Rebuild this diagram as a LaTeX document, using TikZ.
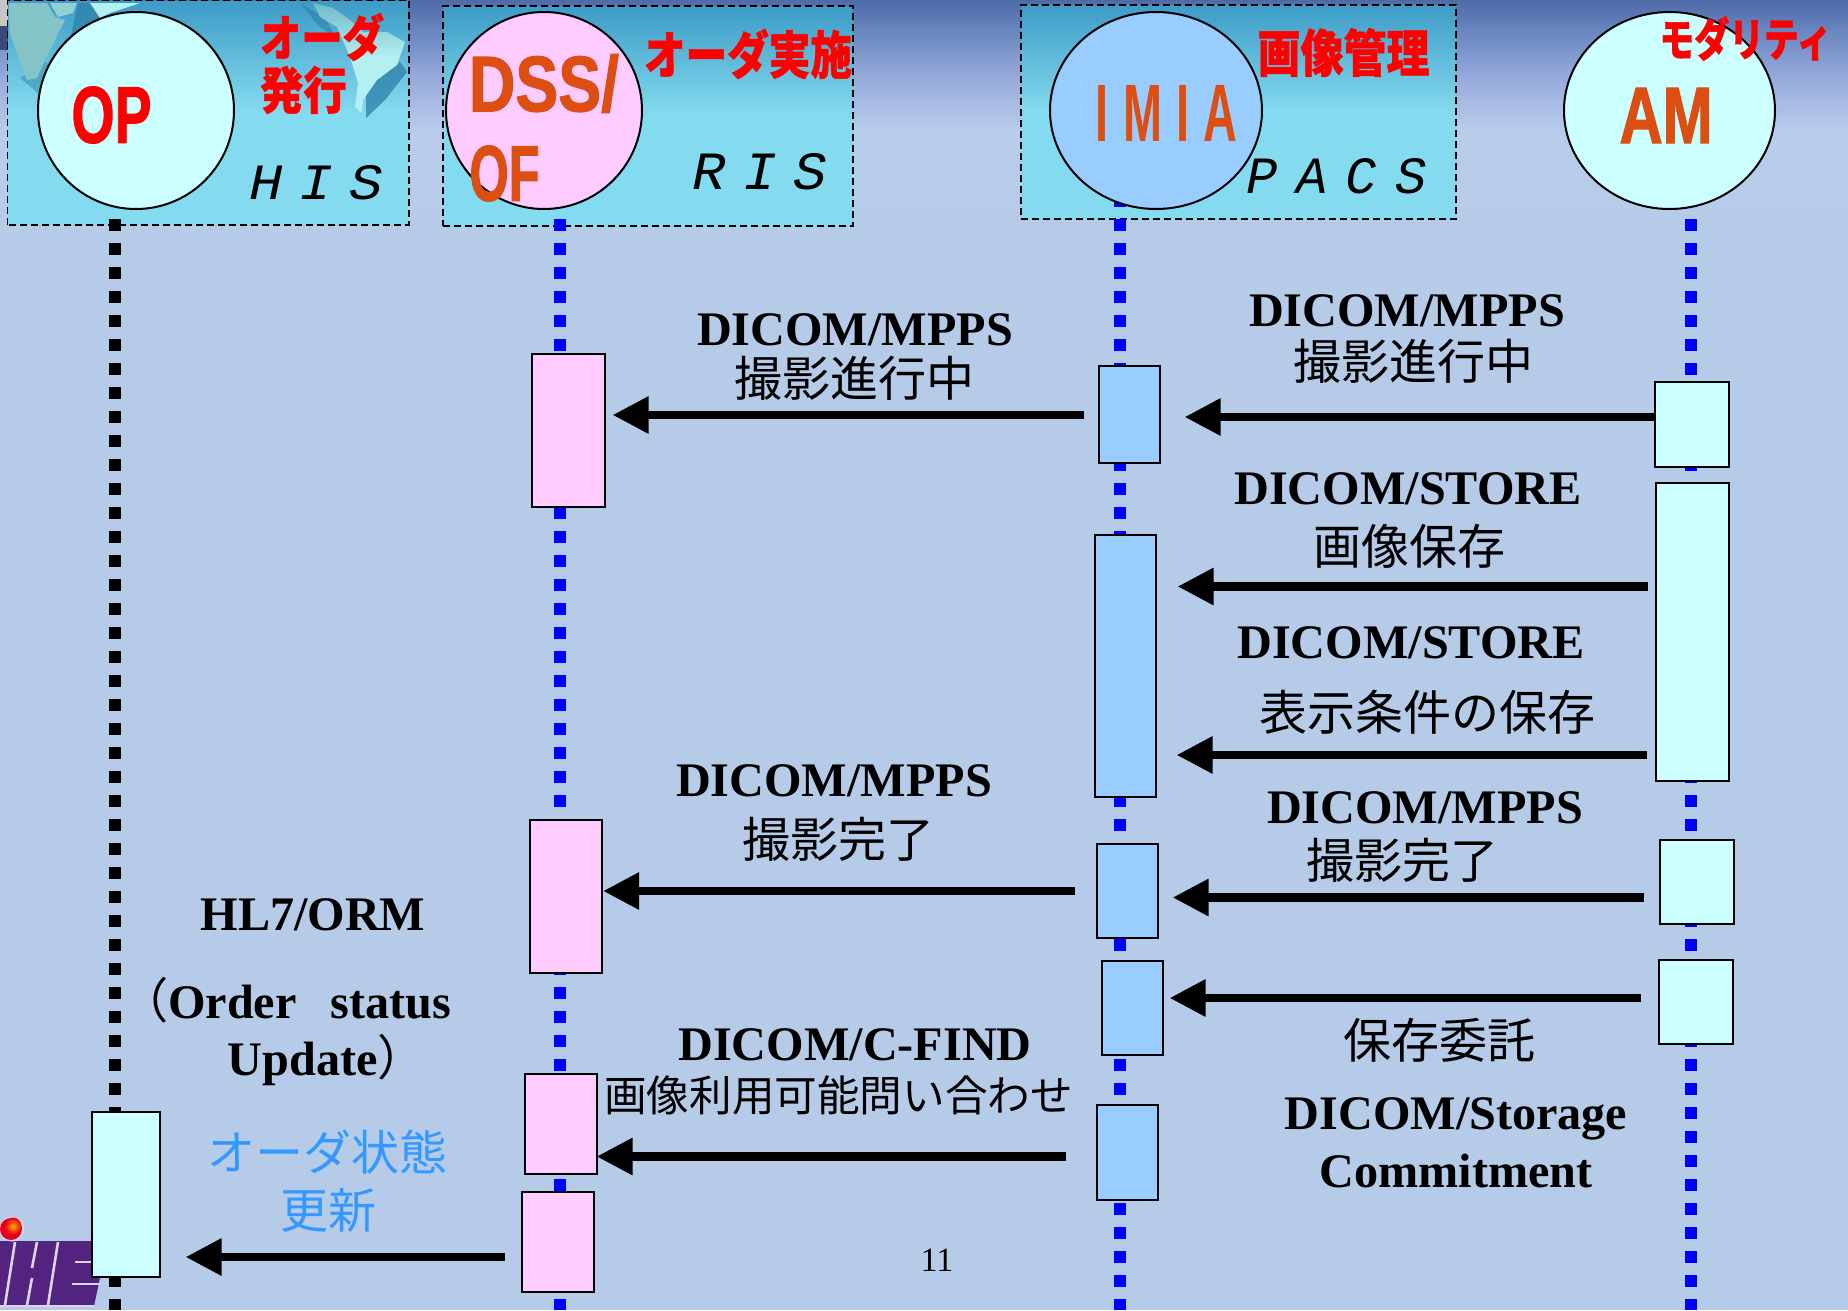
\documentclass[tikz,border=0pt]{standalone}
\usepackage{fontspec}
\usepackage{graphicx}
\usetikzlibrary{shapes.geometric,arrows.meta}
\setmainfont{Liberation Serif}
\newfontfamily\jp{Noto Sans CJK JP}
\newfontfamily\jpb[BoldFeatures={FakeBold=1}]{Noto Sans CJK JP}
\newfontfamily\lab[BoldFeatures={FakeBold=1.6}]{Liberation Sans}
\newfontfamily\labi{Liberation Sans}
\newfontfamily\monoi{Liberation Mono}
\definecolor{pinkf}{HTML}{FFCCFF}
\definecolor{bluef}{HTML}{99CCFF}
\definecolor{cyanf}{HTML}{CCFFFF}
\definecolor{orangeT}{HTML}{DC4E12}
\definecolor{blueT}{HTML}{3399FF}
\definecolor{bgA}{HTML}{4F6BA8}
\definecolor{bgB}{HTML}{6482BC}
\definecolor{bgC}{HTML}{96A9DB}
\definecolor{bgD}{HTML}{B9CDEB}
\definecolor{bgE}{HTML}{B6CBE8}
\definecolor{panA}{HTML}{3D9BC6}
\definecolor{panB}{HTML}{84DBEF}
\definecolor{land}{HTML}{B4F0F2}
\definecolor{landT}{HTML}{6FBCC8}
\definecolor{landB}{HTML}{84C4C6}
\definecolor{deep}{HTML}{2B7FA8}
\definecolor{purpleL}{HTML}{52247F}
\definecolor{whiteL}{HTML}{DDD5EA}
\tikzset{
  panel/.style={draw=black,line width=1.5pt,dash pattern=on 7pt off 4pt,top color=panA,bottom color=panB,middle color=panB,inner sep=0pt},
  actor/.style={ellipse,draw=black,line width=2pt,inner sep=0pt},
  actbox/.style={rectangle,draw=black,line width=2pt,inner sep=0pt},
  pinkbox/.style={actbox,fill=pinkf},
  bluebox/.style={actbox,fill=bluef},
  cyanbox/.style={actbox,fill=cyanf},
  lifeB/.style={line width=12pt,blue,dash pattern=on 12pt off 12pt},
  lifeK/.style={line width=12pt,black,dash pattern=on 12pt off 12pt},
  msg/.style={line width=8.7pt,-{Triangle[length=36pt,width=35pt]}},
  sized/.style={inner sep=0pt,anchor=center},
  txt/.style={inner sep=0pt,anchor=base,font=\fontsize{48.2}{48}\selectfont\bfseries},
  jtxt/.style={inner sep=0pt,anchor=base,font=\fontsize{48}{48}\selectfont\jp},
  logostroke/.style={whiteL,line width=2.6pt}
}
\begin{document}
\begin{tikzpicture}[x=1pt,y=-1pt]
\useasboundingbox (0,0) rectangle (1848,1310);
% background
\shade[top color=bgA,bottom color=bgB] (0,0) rectangle (1848,26);
\shade[top color=bgB,bottom color=bgC] (0,25.5) rectangle (1848,76);
\shade[top color=bgC,bottom color=bgD] (0,75.5) rectangle (1848,132);
\shade[top color=bgD,bottom color=bgE] (0,131.5) rectangle (1848,240);
\fill[bgE] (0,239.5) rectangle (1848,1310);
\fill[gray!45] (0,0) rectangle (9,26);
\fill[bgA!70!black] (0,26) rectangle (9,50);
% logo
\fill[purpleL] (0,1241) -- (102,1241) -- (100,1278) -- (94,1306) -- (0,1306) -- cycle;
\draw[logostroke] (15,1242) -- (5,1305);
\draw[logostroke] (37,1242) -- (32,1268);
\draw[logostroke] (32,1278) -- (27,1305);
\draw[logostroke] (58,1242) -- (48,1305);
\draw[logostroke] (75,1262) -- (95,1262);
\draw[logostroke] (72,1284) -- (100,1284);
\draw[logostroke] (0,1306) -- (94,1306);
\fill[whiteL] (12,1229) circle (12.5);
\fill[red!60!purple] (11,1229) circle (11);
\shade[inner color=orange!70!yellow,outer color=red!60!purple] (13,1226) circle (8.5);
% panels
\node[panel,draw=none,minimum width=400pt,minimum height=223pt] (phis) at (208,112.5) {};
\node[panel,minimum width=410pt,minimum height=220pt] (pris) at (648,116) {};
\node[panel,minimum width=435pt,minimum height=214pt] (ppacs) at (1238.5,112) {};
% world map on the HIS panel
\begin{scope}
\clip (8.8,1.8) rectangle (407.2,223);
\fill[deep,opacity=.75] (366,88) -- (400,62) -- (407,72) -- (385,100) -- (366,118) -- cycle;
\fill[deep,opacity=.7] (78,3) -- (95,3) -- (105,22) -- (70,40) -- cycle;
\fill[deep,opacity=.45] (20,78) -- (45,62) -- (60,72) -- (40,95) -- cycle;
\fill[deep,opacity=.6] (300,3) -- (325,18) -- (337,40) -- (318,25) -- cycle;
\fill[landB] (8,3) -- (47,3) -- (55,17) -- (65,20) -- (50,50) -- (43,65) -- (37,78) -- (27,80) -- (18,57) -- (10,33) -- cycle;
\fill[landB!70!land] (50,3) -- (77,3) -- (73,13) -- (58,17) -- cycle;
\fill[land] (90,3) -- (140,3) -- (110,13) -- (100,18) -- cycle;
\shade[top color=landT,bottom color=land,middle color=land] (313,3) -- (333,8) -- (350,20) -- (363,32) -- (387,32) -- (405,42) -- (397,65) -- (377,80) -- (363,100) -- (362,113) -- (355,107) -- (358,83) -- (350,57) -- (337,27) -- (320,17) -- cycle;
\end{scope}
\draw[black,line width=1.5pt,dash pattern=on 7pt off 4pt] (phis.south west) rectangle (phis.north east);
% lifelines
\coordinate (l1t) at (115,219); \coordinate (l1b) at (115,1310);
\coordinate (l2t) at (560,219); \coordinate (l2b) at (560,1310);
\coordinate (l3t) at (1120,195); \coordinate (l3b) at (1120,1310);
\coordinate (l4t) at (1691,219); \coordinate (l4b) at (1691,1310);
\draw[lifeK] (l1t) -- (l1b);
\draw[lifeB] (l2t) -- (l2b);
\draw[lifeB] (l3t) -- (l3b);
\draw[lifeB] (l4t) -- (l4b);
% actors
\node[actor,fill=cyanf,minimum width=196pt,minimum height=197pt] (eop) at (136,110.5) {};
\node[actor,fill=pinkf,minimum width=196pt,minimum height=197pt] (edss) at (544,110.5) {};
\node[actor,fill=bluef,minimum width=212pt,minimum height=197pt] (eimia) at (1156,110.5) {};
\node[actor,fill=cyanf,minimum width=211pt,minimum height=197pt] (eam) at (1669.5,110.5) {};
% actor labels
\node[sized,text=red] (top) at (111.5,115) {\resizebox{80pt}{56pt}{\lab\bfseries OP}};
\node[sized,text=orangeT] (tdss) at (544,83.5) {\resizebox{150pt}{57pt}{\lab\bfseries DSS/}};
\node[sized,text=orangeT] (tof) at (504.5,173.5) {\resizebox{70pt}{55pt}{\lab\bfseries OF}};
\node[sized,text=orangeT] (timia) at (1166.5,113) {\resizebox{141pt}{56pt}{\labi\bfseries I\kern.3em M\kern.3em I\kern.3em A}};
\node[sized,text=orangeT] (tam) at (1666,115.5) {\resizebox{93pt}{55pt}{\lab\bfseries AM}};
\node[sized,text=red] (j1) at (322,37) {\resizebox{124pt}{43pt}{\jpb\bfseries オーダ}};
\node[sized,text=red] (j2) at (303.5,90) {\resizebox{87pt}{43pt}{\jpb\bfseries 発行}};
\node[sized,text=red] (j3) at (748,54) {\resizebox{208pt}{45pt}{\jpb\bfseries オーダ実施}};
\node[sized,text=red] (j4) at (1343.5,52.5) {\resizebox{172pt}{44pt}{\jpb\bfseries 画像管理}};
\node[sized,text=red] (j5) at (1745.5,38.5) {\resizebox{172pt}{40pt}{\jpb\bfseries モダリティ}};
\node[sized] (shis) at (316.5,183) {\resizebox{134pt}{34pt}{\monoi\itshape H\kern.3em I\kern.3em S}};
\node[sized] (sris) at (760,172) {\resizebox{134pt}{36pt}{\monoi\itshape R\kern.3em I\kern.3em S}};
\node[sized] (spacs) at (1336.5,176.5) {\resizebox{180pt}{35pt}{\monoi\itshape P\kern.35em A\kern.35em C\kern.35em S}};
% activation boxes
\node[pinkbox,minimum width=73pt,minimum height=153pt] (p1) at (568,430) {};
\node[pinkbox,minimum width=72pt,minimum height=153pt] (p2) at (566,896.5) {};
\node[pinkbox,minimum width=72pt,minimum height=100pt] (p3) at (560.5,1124) {};
\node[pinkbox,minimum width=72pt,minimum height=100pt] (p4) at (557.5,1242) {};
\node[bluebox,minimum width=61pt,minimum height=97pt] (b1) at (1129,414.5) {};
\node[bluebox,minimum width=61pt,minimum height=262pt] (b2) at (1125,666) {};
\node[bluebox,minimum width=61pt,minimum height=94pt] (b3) at (1127,891) {};
\node[bluebox,minimum width=61pt,minimum height=94pt] (b4) at (1132,1008) {};
\node[bluebox,minimum width=61pt,minimum height=95pt] (b5) at (1127.5,1152.5) {};
\node[cyanbox,minimum width=74pt,minimum height=85pt] (a1) at (1692,424.5) {};
\node[cyanbox,minimum width=73pt,minimum height=298pt] (a2) at (1692.5,632) {};
\node[cyanbox,minimum width=74pt,minimum height=84pt] (a3) at (1696.5,882) {};
\node[cyanbox,minimum width=74pt,minimum height=84pt] (a4) at (1695.5,1002) {};
\node[cyanbox,minimum width=68pt,minimum height=165pt] (c1) at (125.5,1194.5) {};
% messages
\draw[msg,shorten <=14pt,shorten >=7pt] (b1.west |- 0,415) -- (p1.east |- 0,415);
\draw[msg,shorten >=24pt] (a1.west |- 0,417) -- (b1.east |- 0,417);
\draw[msg,shorten <=7pt,shorten >=21pt] (a2.west |- 0,586.5) -- (b2.east |- 0,586.5);
\draw[msg,shorten <=8pt,shorten >=20pt] (a2.west |- 0,755) -- (b2.east |- 0,755);
\draw[msg,shorten <=21pt,shorten >=0pt] (b3.west |- 0,891) -- (p2.east |- 0,891);
\draw[msg,shorten <=15pt,shorten >=14pt] (a3.west |- 0,897.5) -- (b3.east |- 0,897.5);
\draw[msg,shorten <=17pt,shorten >=6pt] (a4.west |- 0,998) -- (b4.east |- 0,998);
\draw[msg,shorten <=30pt,shorten >=-1pt] (b5.west |- 0,1156.5) -- (p3.east |- 0,1156.5);
\draw[msg,shorten <=16pt,shorten >=25pt] (p4.west |- 0,1257) -- (c1.east |- 0,1257);
% texts
\node[txt] (t1a) at (855,345) {DICOM/MPPS};
\node[jtxt] (t1b) at (854,396) {撮影進行中};
\node[txt] (t2a) at (1407,326) {DICOM/MPPS};
\node[jtxt] (t2b) at (1413,379) {撮影進行中};
\node[txt] (t3a) at (1408,504) {DICOM/STORE};
\node[jtxt] (t3b) at (1409,564) {画像保存};
\node[txt] (t4a) at (1411,658) {DICOM/STORE};
\node[jtxt] (t4b) at (1427,730) {表示条件の保存};
\node[txt] (t5a) at (834,796) {DICOM/MPPS};
\node[jtxt] (t5b) at (838,857) {撮影完了};
\node[txt] (t6a) at (1425,823) {DICOM/MPPS};
\node[jtxt] (t6b) at (1402,878) {撮影完了};
\node[txt] (t7a) at (313,930) {HL7/ORM};
\node[txt] (t7b) at (285.5,1018) {{\jp\mdseries （}Order\hspace{0.7em}status};
\node[txt] (t7c) at (327,1075) {Update{\jp\mdseries ）}};
\node[txt] (t8a) at (855,1060) {DICOM/C-FIND};
\node[jtxt,font=\fontsize{42.6}{44}\selectfont\jp] (t8b) at (838.5,1111) {画像利用可能問い合わせ};
\node[jtxt] (t9a) at (1439,1058) {保存委託};
\node[txt] (t9b) at (1456,1129) {DICOM/Storage};
\node[txt] (t9c) at (1456,1187) {Commitment};
\node[jtxt,text=blueT] (t10a) at (327.5,1170) {オーダ状態};
\node[jtxt,text=blueT] (t10b) at (328,1228) {更新};
\node[inner sep=0pt,anchor=base,font=\fontsize{34}{34}\selectfont] (pg) at (937,1271) {11};
\end{tikzpicture}
\end{document}
